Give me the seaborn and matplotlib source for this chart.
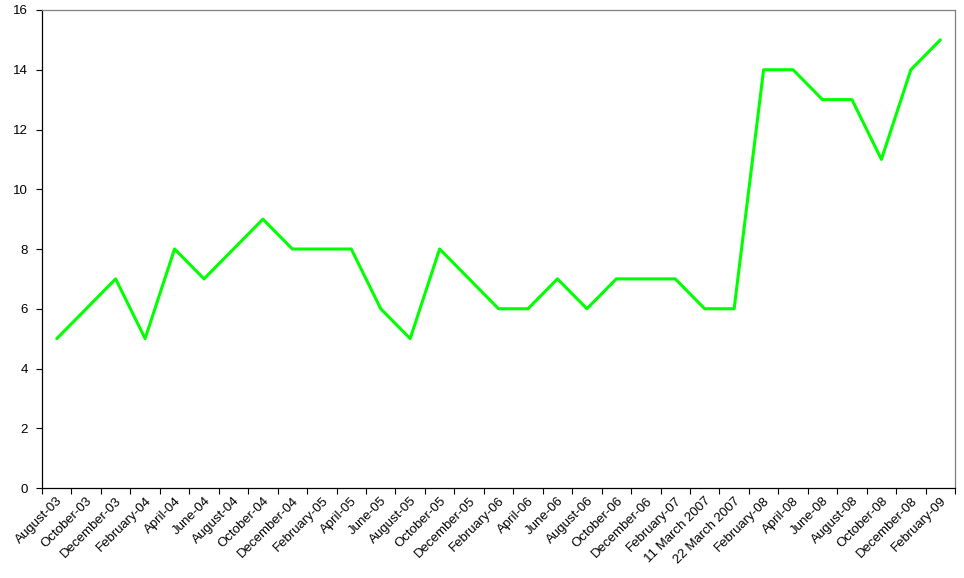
import numpy as np
import pandas as pd
import matplotlib
matplotlib.use("Agg")
import matplotlib.pyplot as plt
import matplotlib.transforms as mtrans
import seaborn as sns

# 데이터
months = ['August-03', 'October-03', 'December-03', 'February-04', 'April-04',
          'June-04', 'August-04', 'October-04', 'December-04', 'February-05',
          'April-05', 'June-05', 'August-05', 'October-05', 'December-05',
          'February-06', 'April-06', 'June-06', 'August-06', 'October-06',
          'December-06', 'February-07', '11 March 2007', '22 March 2007',
          'February-08', 'April-08', 'June-08', 'August-08', 'October-08',
          'December-08', 'February-09']
values = [5, 6, 7, 5, 8, 7, 8, 9, 8, 8, 8, 6, 5, 8, 7, 6, 6, 7, 6, 7, 7, 7,
          6, 6, 14, 14, 13, 13, 11, 14, 15]

df = pd.DataFrame({'month': months, 'value': values})

sns.set_style("white")
plt.rcParams['font.family'] = ['Liberation Sans', 'DejaVu Sans']

fig = plt.figure(figsize=(9.64, 5.78), dpi=100)
ax = fig.add_axes([0.0436, 0.1557, 0.9471, 0.8270])

sns.lineplot(data=df, x='month', y='value', sort=False, color='#00ff00',
             linewidth=2.2, ax=ax)

n = len(months)
ax.set_xlim(-0.5, n - 0.5)
ax.set_ylim(0, 16)
ax.set_yticks(range(0, 17, 2))
ax.set_xticks(range(n))
ax.set_xticklabels(months, rotation=45, ha='right', va='top',
                   rotation_mode='anchor', fontsize=9.5, color='black')
# 라벨 살짝 왼쪽으로
shift = mtrans.ScaledTranslation(-5 / 100, 0, fig.dpi_scale_trans)
for lbl in ax.get_xticklabels():
    lbl.set_transform(lbl.get_transform() + shift)
ax.set_xticks(np.arange(-0.5, n, 1), minor=True)
ax.tick_params(axis='x', which='major', length=0, pad=5)
ax.tick_params(axis='x', which='minor', length=4, width=0.8, color='black',
               direction='out', bottom=True)
ax.tick_params(axis='y', length=4, width=0.8, color='black', direction='out',
               left=True, labelsize=9.5, pad=6, labelcolor='black')
ax.set_xlabel('')
ax.set_ylabel('')

for s in ['left', 'bottom']:
    ax.spines[s].set_color('black')
    ax.spines[s].set_linewidth(0.9)
for s in ['top', 'right']:
    ax.spines[s].set_color('#808080')
    ax.spines[s].set_linewidth(0.9)

plt.savefig('out.png', dpi=100)
